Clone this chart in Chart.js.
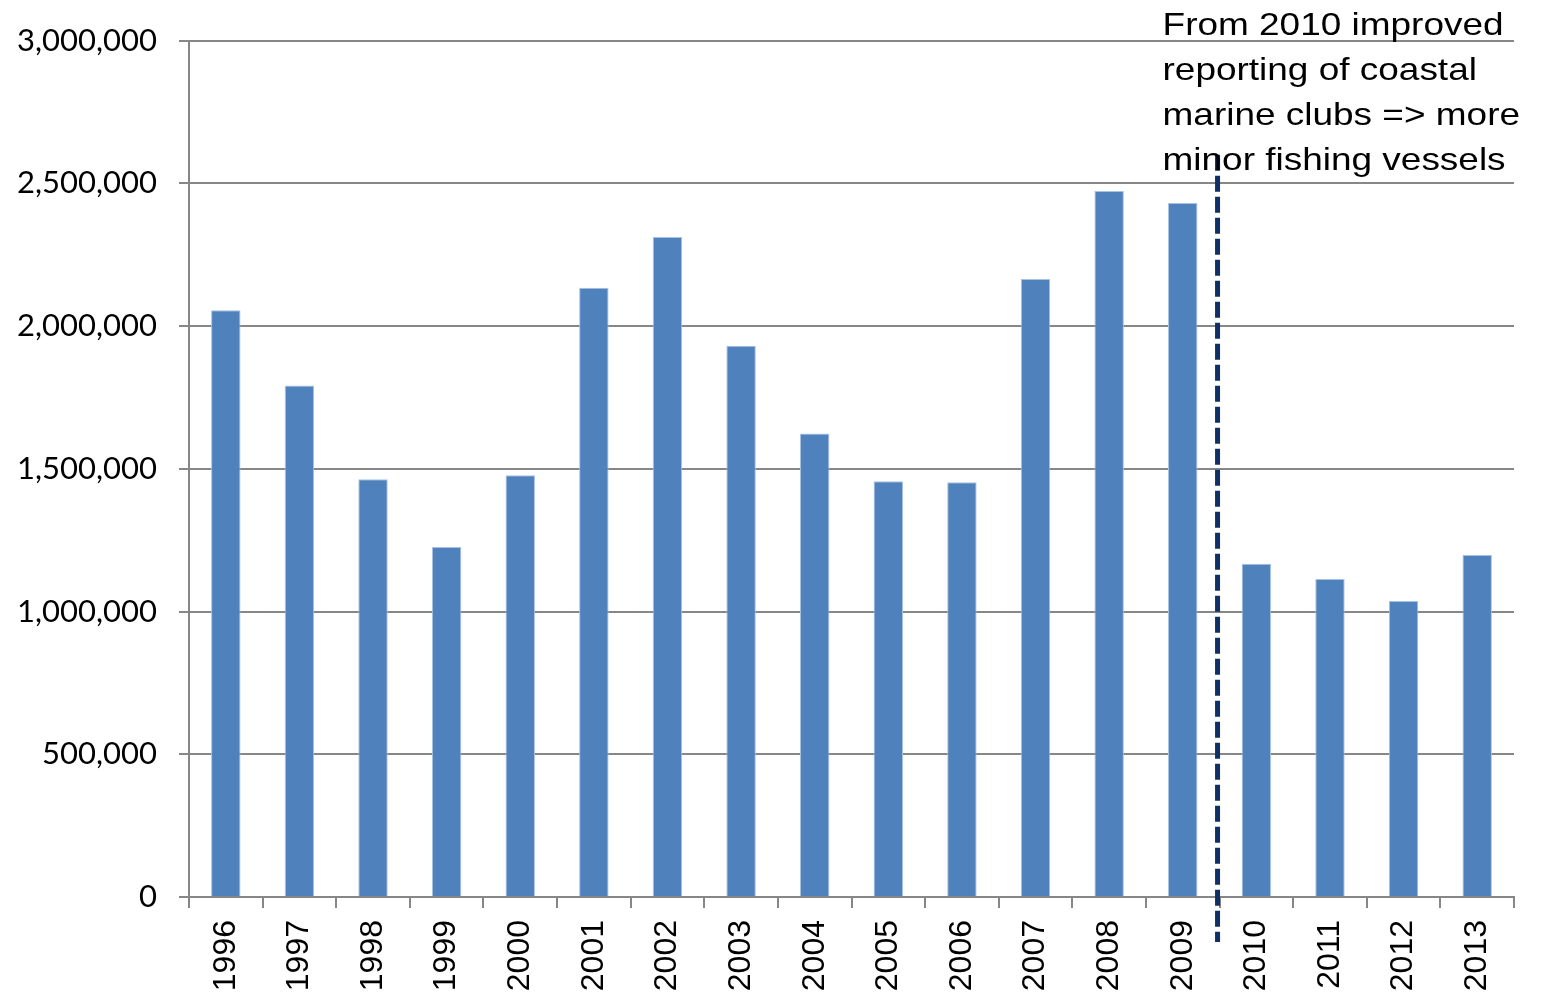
<!DOCTYPE html>
<html>
<head>
<meta charset="utf-8">
<script src="https://cdn.jsdelivr.net/npm/chart.js@4/dist/chart.umd.min.js"></script>
<style>
html,body{margin:0;padding:0;background:#fff;}
#wrap{width:1549px;height:992px;position:relative;}
</style>
</head>
<body>
<div id="wrap"><canvas id="c"></canvas></div>
<script>
const years = ['1996','1997','1998','1999','2000','2001','2002','2003','2004','2005','2006','2007','2008','2009','2010','2011','2012','2013'];
const vessels = [2055000,1792000,1463000,1226000,1477000,2134000,2312000,1931000,1624000,1456000,1453000,2165000,2473000,2431000,1167000,1114000,1037000,1198000];
const yTicks = [0,500000,1000000,1500000,2000000,2500000,3000000];
const noteLines = ['From 2010 improved','reporting of coastal','marine clubs => more','minor fishing vessels'];
const breakAfter = '2009';

const dividerPlugin = {
  id: 'divider',
  afterDatasetsDraw(chart) {
    const ctx = chart.ctx, x = chart.scales.x, y = chart.scales.y;
    const i = years.indexOf(breakAfter);
    const lx = (x.getPixelForValue(i) + x.getPixelForValue(i + 1)) / 2 - 2;
    const top = y.getPixelForValue(2600000);
    const bottom = chart.chartArea.bottom + 45;
    ctx.save();
    ctx.strokeStyle = '#0E3066';
    ctx.lineWidth = 5;
    ctx.setLineDash([16, 5]);
    ctx.beginPath();
    ctx.moveTo(lx, top);
    ctx.lineTo(lx, bottom);
    ctx.stroke();
    ctx.setLineDash([]);
    ctx.fillStyle = '#000';
    ctx.font = '32px "Liberation Sans", Arial, sans-serif';
    ctx.textAlign = 'left';
    ctx.textBaseline = 'alphabetic';
    ctx.translate(lx - 55, 0);
    ctx.scale(1.155, 1);
    noteLines.forEach((t, k) => ctx.fillText(t, 0, 35 + k * 45));
    ctx.restore();
  }
};

function draw() {
  new Chart(document.getElementById('c'), {
    type: 'bar',
    data: {
      labels: years,
      datasets: [{
        data: vessels,
        backgroundColor: '#4F81BD',
        borderColor: '#A9C2E2',
        borderWidth: 1,
        categoryPercentage: 1,
        barPercentage: 0.4
      }]
    },
    options: {
      responsive: true,
      maintainAspectRatio: false,
      animation: false,
      layout: { padding: { top: 37, right: 35, left: 0, bottom: 0 } },
      plugins: { legend: { display: false }, tooltip: { enabled: false } },
      scales: {
        x: {
          offset: true,
          grid: { display: true, drawOnChartArea: false, offset: true, color: '#878787', lineWidth: 2, tickLength: 11 },
          border: { color: '#878787', width: 2 },
          ticks: {
            color: '#000',
            font: { family: '"Liberation Sans", Arial, sans-serif', size: 32 },
            minRotation: 90, maxRotation: 90, padding: 12, autoSkip: false
          },
          afterFit(s) { s.height = 95; }
        },
        y: {
          min: 0, max: 3000000,
          afterBuildTicks(s) { s.ticks = yTicks.map(v => ({ value: v })); },
          grid: { color: '#878787', lineWidth: 2, tickLength: 10 },
          border: { color: '#878787', width: 2 },
          ticks: {
            color: '#000',
            font: { family: 'Lato, "Open Sans", sans-serif', size: 31 },
            padding: 22,
            callback: v => v.toLocaleString('en-US')
          },
          afterFit(s) { s.width = 189; }
        }
      }
    },
    plugins: [dividerPlugin]
  });
}
Promise.all([document.fonts.load('31px Lato'), document.fonts.load('32px "Liberation Sans"')]).then(draw, draw);
</script>
</body>
</html>
